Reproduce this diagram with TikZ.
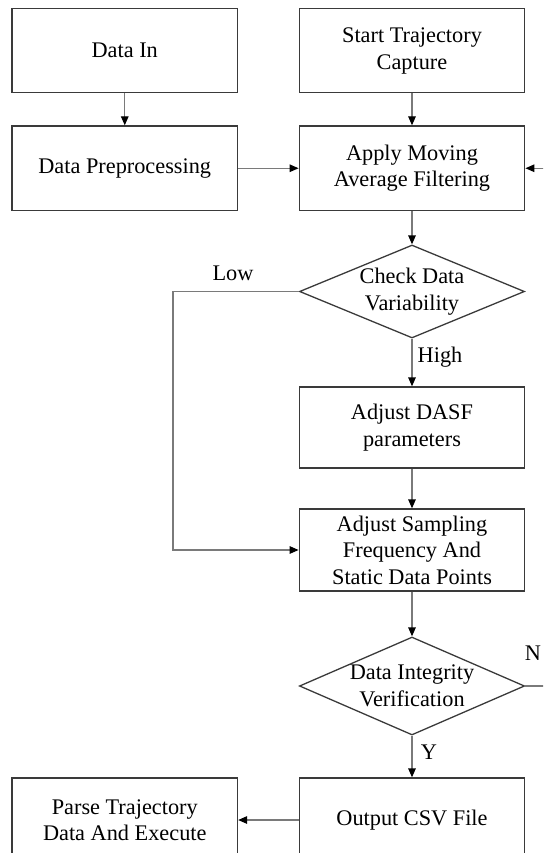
\documentclass[tikz,border=0pt]{standalone}
\usepackage{fontspec}
\setmainfont{Liberation Serif}
\usetikzlibrary{shapes.geometric,arrows.meta}
\definecolor{boxline}{HTML}{3A3A3A}
\definecolor{conn}{HTML}{7A7A7A}
\begin{document}
\begin{tikzpicture}[x=1pt,y=-1pt,
  txt/.style={font=\fontsize{22.3}{26.5}\selectfont, text=black},
  procbox/.style={txt,draw=boxline,line width=1.3pt,rectangle,minimum width=225.5pt,minimum height=84pt,align=center,inner sep=0pt},
  decision/.style={txt,draw=boxline,line width=1.3pt,diamond,aspect=2.42,minimum width=225pt,minimum height=95pt,align=center,inner sep=0pt},
  flow/.style={draw=conn,line width=1.3pt,-{Triangle[length=9pt,width=7.5pt,color=black]}},
  lbl/.style={txt}
]
\useasboundingbox (0,0) rectangle (543,853);
\clip (0,0) rectangle (543,853);

% process steps and decisions
\node[procbox] (datain) at (124.75,50.75) {Data In};
\node[procbox] (start) at (412,50.75) {Start Trajectory\\Capture};
\node[procbox,minimum height=84.5pt] (prep) at (124.75,168.25) {Data Preprocessing};
\node[procbox,minimum height=84.5pt] (filter) at (412,168.25) {Apply Moving\\Average Filtering};
\node[decision,minimum height=93pt] (varcheck) at (412,291.5) {Check Data\\Variability};
\node[procbox,minimum height=81pt] (dasf) at (412,427.5) {Adjust DASF\\parameters};
\node[procbox,minimum height=82pt] (sampling) at (412,550) {Adjust Sampling\\Frequency And\\Static Data Points};
\node[decision,minimum height=98pt] (integrity) at (412,686) {Data Integrity\\Verification};
\node[procbox] (csv) at (412,820) {Output CSV File};
\node[procbox] (parse) at (124.75,820) {Parse Trajectory\\Data And Execute};

% bend points of the two loops
\coordinate (lowbend) at (173,291.5);
\coordinate (retry) at (562,0);

% connectors
\draw[flow] (datain) -- (prep);
\draw[flow] (start) -- (filter);
\draw[flow] (prep) -- (filter);
\draw[flow] (filter) -- (varcheck);
\draw[flow] (varcheck) -- (dasf);
\draw[flow] (dasf) -- (sampling);
\draw[flow] (sampling) -- (integrity);
\draw[flow] (integrity) -- (csv);
\draw[flow] (csv) -- (parse);
\draw[flow] (varcheck.west) -- (lowbend) |- (sampling.west);
\draw[flow] (integrity.east) -| (retry |- filter.east) -- (filter.east);

% branch labels
\node[lbl] (lowlbl) at (233,273) {Low};
\node[lbl] (highlbl) at (440,357) {High};
\node[lbl] (ylbl) at (429,752) {Y};
\node[lbl] (nlbl) at (533,653) {N};
\end{tikzpicture}
\end{document}
